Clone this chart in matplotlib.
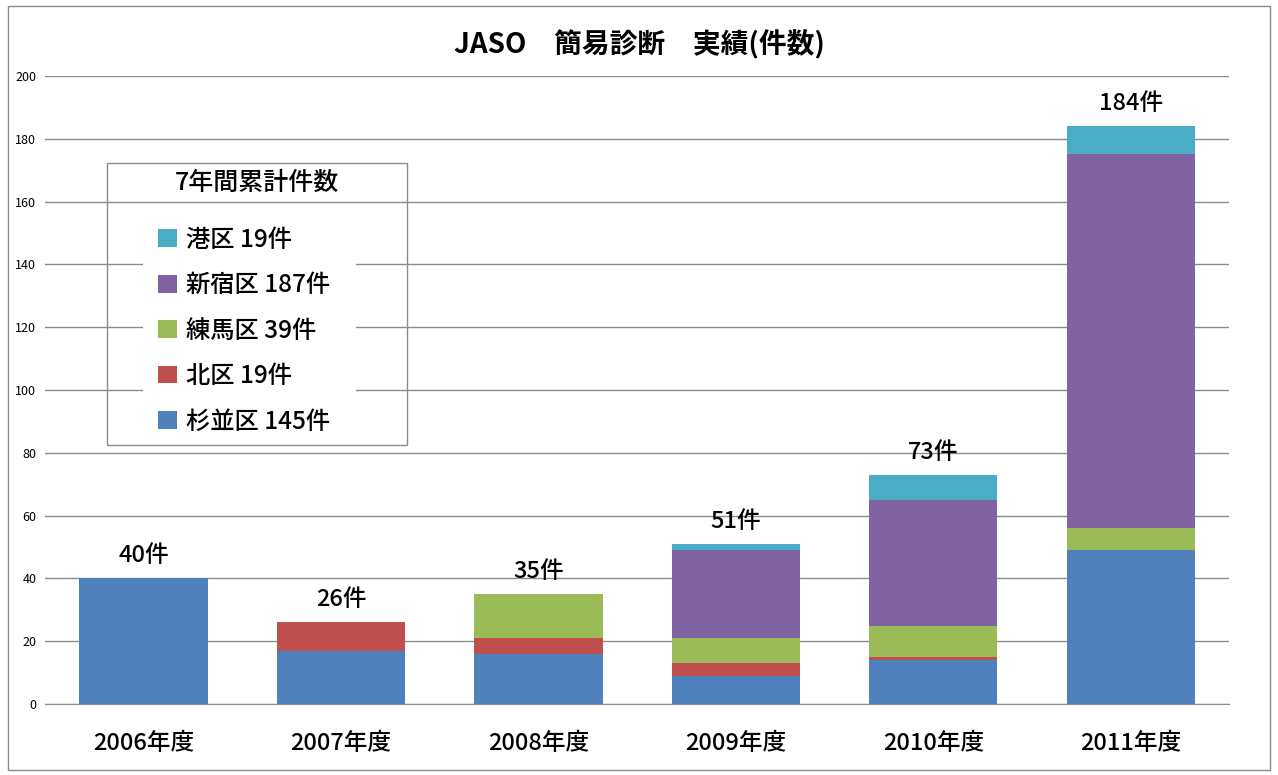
import numpy as np
import matplotlib
matplotlib.use('Agg')
import matplotlib.pyplot as plt
from matplotlib.patches import Rectangle, Patch

plt.rcParams['font.family'] = ['Noto Sans CJK JP', 'DejaVu Sans']

# data
years = ['2006年度', '2007年度', '2008年度', '2009年度', '2010年度', '2011年度']
suginami = [40, 17, 16, 9, 14, 49]
kita = [0, 9, 5, 4, 1, 0]
nerima = [0, 0, 14, 8, 10, 7]
shinjuku = [0, 0, 0, 28, 40, 119]
minato = [0, 0, 0, 2, 8, 9]
series_names = ['杉並区 145件', '北区 19件', '練馬区 39件', '新宿区 187件', '港区 19件']
colors = ['#4F81BD', '#C0504D', '#9BBB59', '#8064A2', '#4BACC6']

fig = plt.figure(figsize=(12.78, 7.75), dpi=100)
ax = fig.add_axes([0.035, 0.0916, 0.927, 0.8104])

x = np.arange(len(years))
series = [suginami, kita, nerima, shinjuku, minato]
bottom = np.zeros(len(years))
for vals, c in zip(series, colors):
    vals = np.array(vals)
    ax.bar(x, vals, 0.65, bottom=bottom, color=c, zorder=2)
    bottom += vals

# totals above bars
for xi, tot in zip(x, bottom):
    ax.annotate(f'{int(tot)}件', (xi, tot), xytext=(0, 8), textcoords='offset points',
                ha='center', va='bottom', fontsize=17, fontweight='medium')

ax.set_xlim(-0.5, len(years) - 0.5)
ax.set_ylim(0, 200)
ax.set_yticks(range(0, 201, 20))
ax.set_xticks(x)
ax.set_xticklabels(years, fontsize=17, fontweight='medium')
ax.tick_params(axis='y', labelsize=9, length=0, pad=6)
ax.tick_params(axis='x', length=0, pad=20)
ax.yaxis.grid(True, color='#8c8c8c', linewidth=1)
ax.set_axisbelow(True)
for s in ['top', 'right', 'left']:
    ax.spines[s].set_visible(False)
ax.spines['bottom'].set_color('#8c8c8c')

fig.text(0.5, 0.942, 'JASO\u3000簡易診断\u3000実績(件数)', ha='center', va='center',
         fontsize=20, fontweight='bold')

# legend box
ax.add_patch(Rectangle((0.0523, 0.412), 0.2537, 0.449, transform=ax.transAxes,
                       facecolor='none', edgecolor='#8c8c8c', linewidth=1, zorder=4))
ax.add_patch(Rectangle((0.0827, 0.433), 0.18, 0.346, transform=ax.transAxes,
                       facecolor='white', edgecolor='none', zorder=3))
ax.text(0.0523 + 0.2537 / 2, 0.83, '7年間累計件数', transform=ax.transAxes,
        ha='center', va='center', fontsize=18, fontweight='medium', zorder=5)
handles = [Patch(facecolor=c, label=n) for c, n in zip(colors, series_names)][::-1]
leg = ax.legend(handles=handles, loc='upper left', bbox_to_anchor=(0.096, 0.76),
                frameon=False, borderpad=0, borderaxespad=0,
                handlelength=0.75, handleheight=0.75, handletextpad=0.4,
                labelspacing=0.8, prop={'size': 17.5, 'weight': 'medium'})
leg.set_zorder(5)

# outer chart border
fig.add_artist(Rectangle((0.006, 0.006), 0.988, 0.986, transform=fig.transFigure,
                         facecolor='none', edgecolor='#8c8c8c', linewidth=1))

fig.savefig('out.png', dpi=100)
